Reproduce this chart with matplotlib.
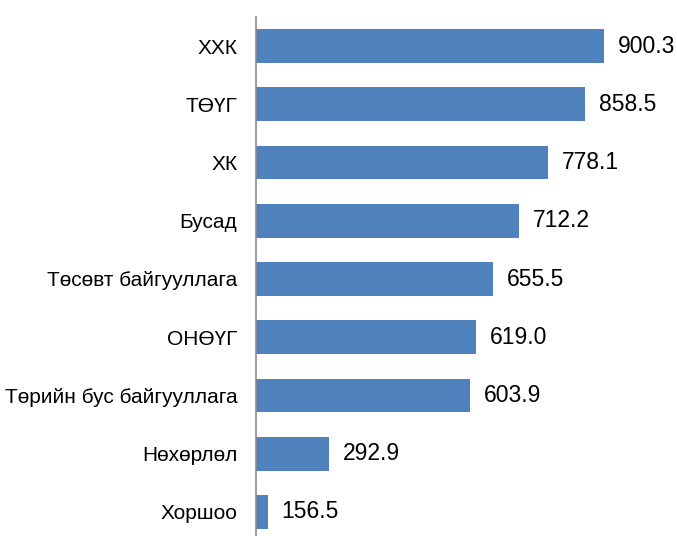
import matplotlib.pyplot as plt

categories = ['ХХК', 'ТӨҮГ', 'ХК', 'Бусад', 'Төсөвт байгууллага', 'ОНӨҮГ',
              'Төрийн бус байгууллага', 'Нөхөрлөл', 'Хоршоо']
values = [900.3, 858.5, 778.1, 712.2, 655.5, 619.0, 603.9, 292.9, 156.5]

plt.rcParams['font.family'] = ['Liberation Sans', 'DejaVu Sans']

fig = plt.figure(figsize=(6.77, 5.36), dpi=100)
ax = fig.add_axes([256 / 677, -5 / 536, 421 / 677, 524 / 536])

pos = list(range(len(categories)))
ax.barh(pos, values, height=0.58, color='#4f81bd')
ax.set_ylim(len(categories) - 0.5, -0.5)
# axis does not start at zero in the original
ax.set_xlim(131, 1063)

# value labels to the right of each bar
for p, v in zip(pos, values):
    ax.annotate(f'{v:.1f}', (v, p), xytext=(10, 0), textcoords='offset points',
                va='center', ha='left', fontsize=16.5)

ax.set_yticks(pos)
ax.set_yticklabels(categories, fontsize=15)
ax.tick_params(axis='y', length=0, pad=13.5)
ax.set_xticks([])
for s in ['top', 'right', 'bottom']:
    ax.spines[s].set_visible(False)
ax.spines['left'].set_color('#8c8c8c')
ax.spines['left'].set_linewidth(1.2)

fig.savefig('out.png', dpi=100)
